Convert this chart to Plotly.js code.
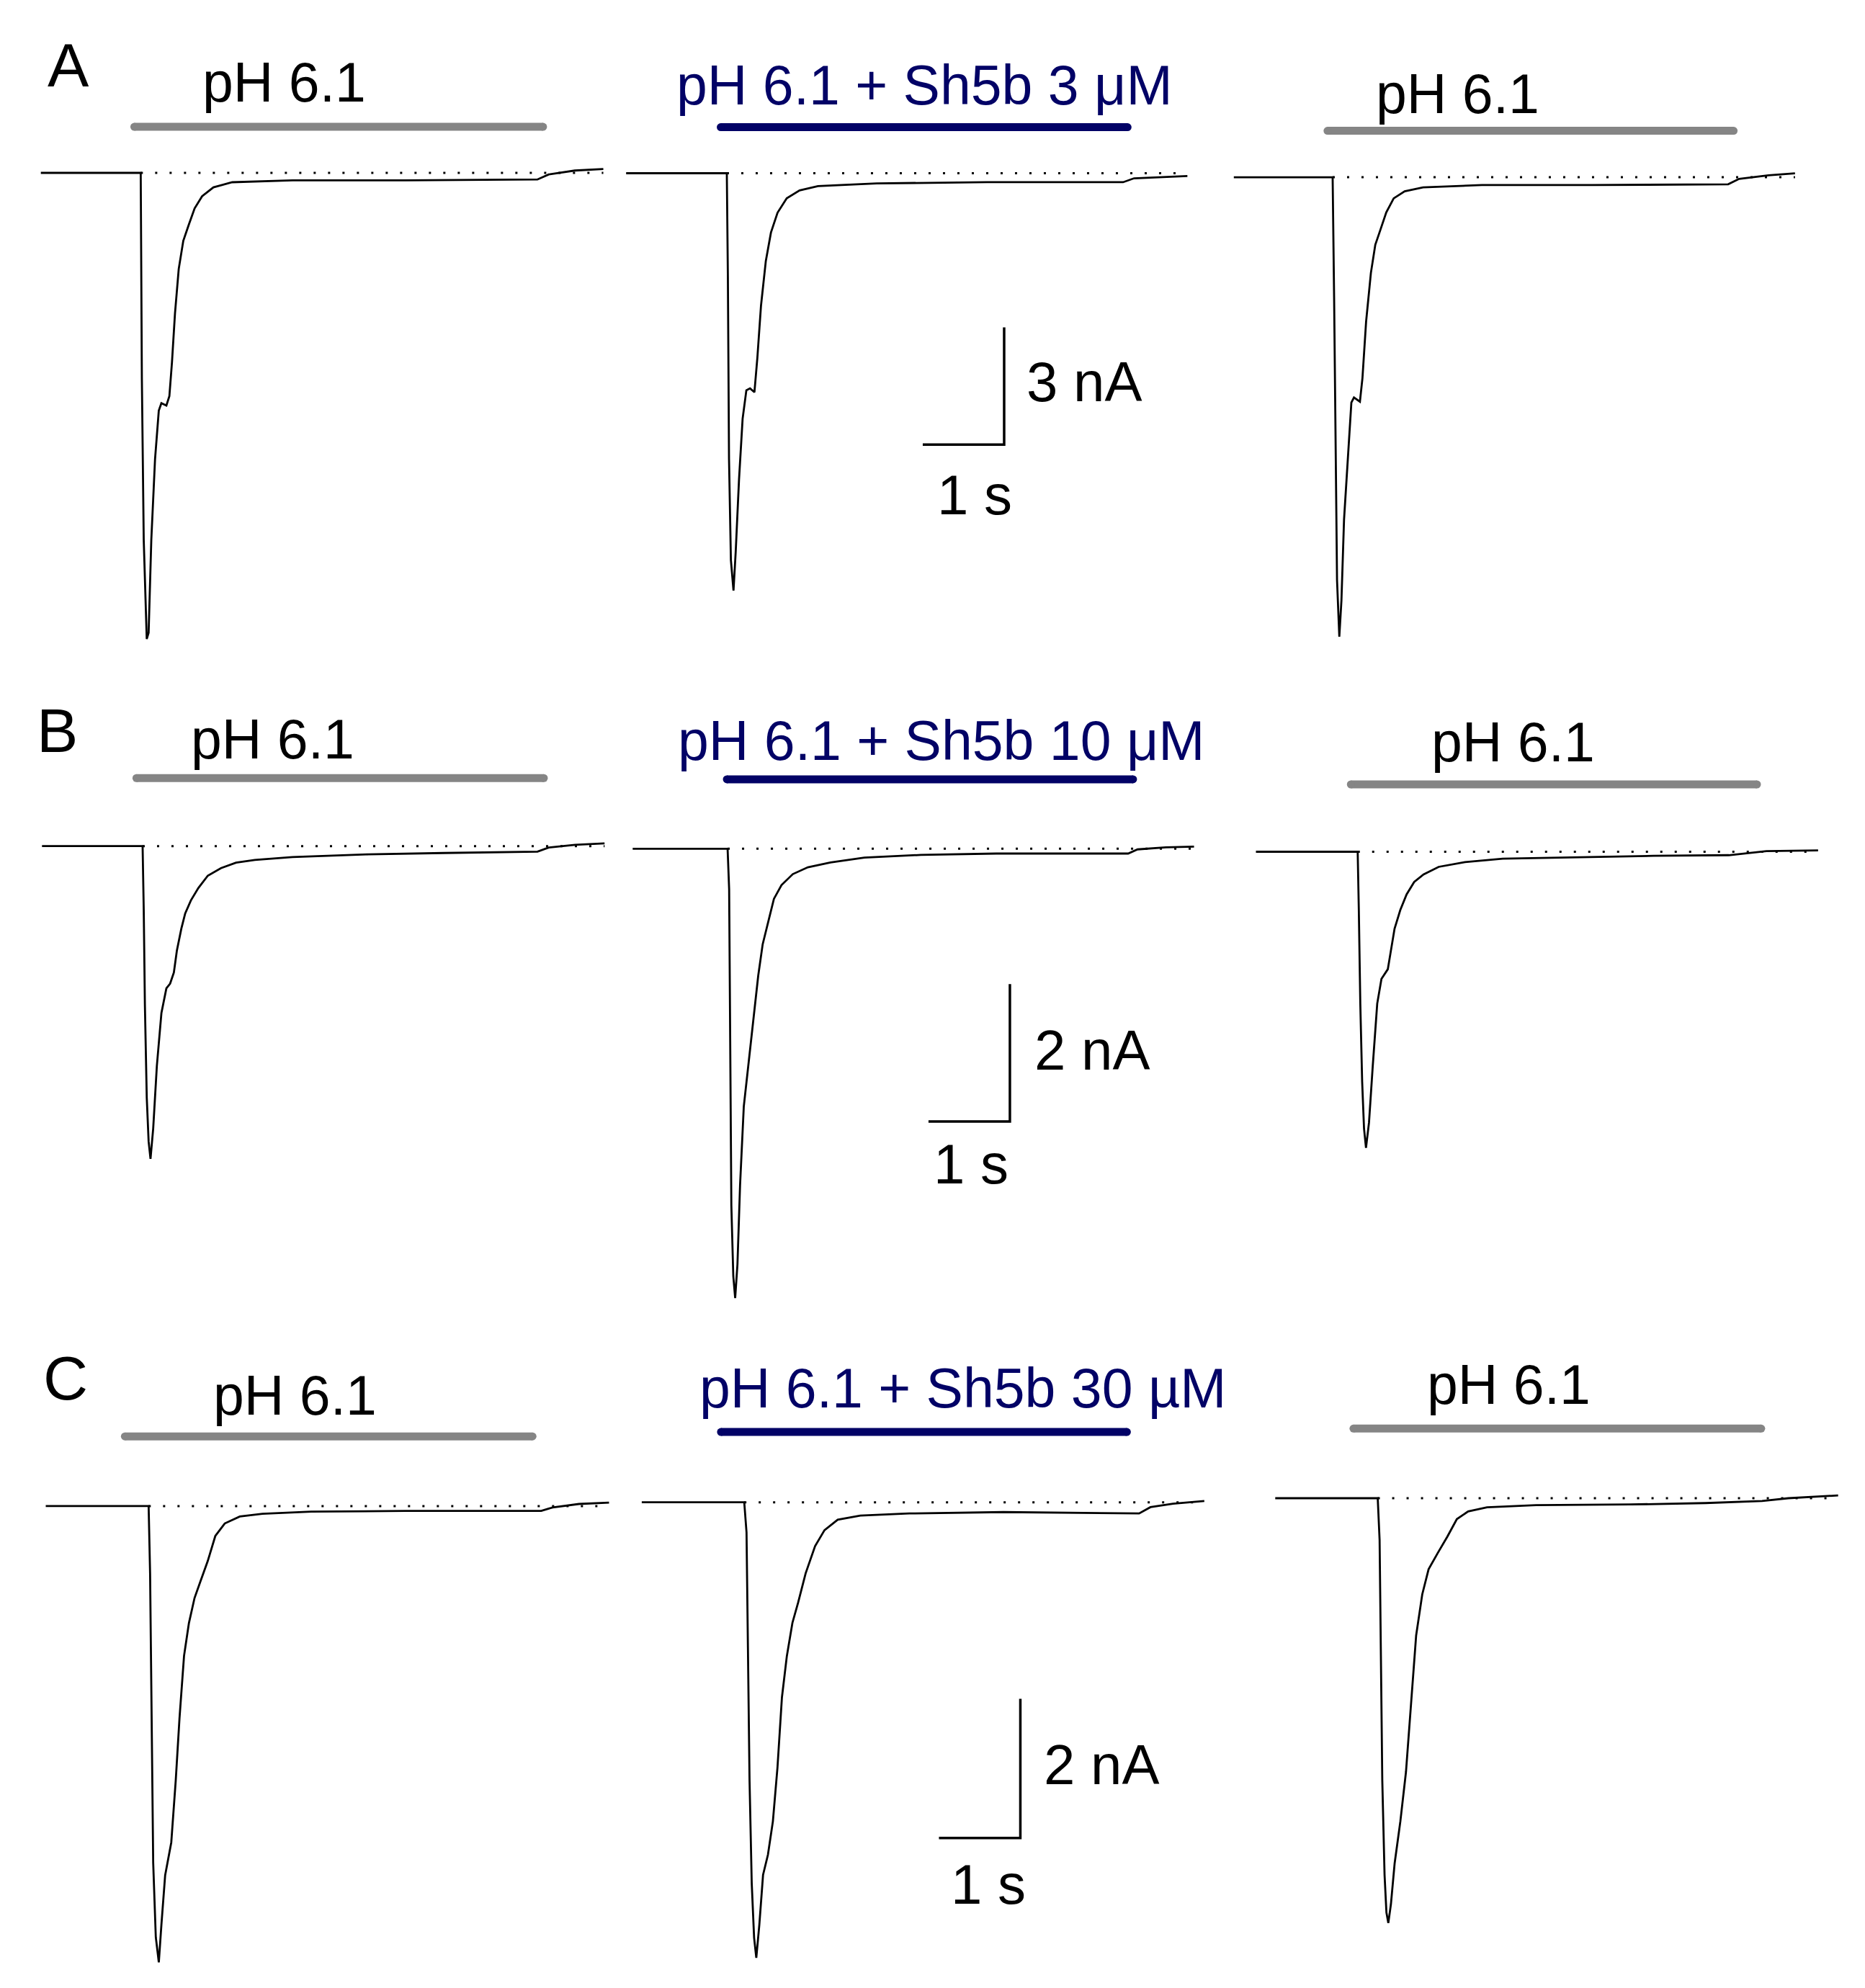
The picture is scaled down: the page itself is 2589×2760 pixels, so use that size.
<!DOCTYPE html>
<html>
<head>
<meta charset="utf-8">
<script src="https://cdn.plot.ly/plotly-3.0.1.min.js"></script>
<style>html,body{margin:0;padding:0;background:#fff;}#chart{width:2589px;height:2760px;}</style>
</head>
<body>
<div id="chart"></div>
<script>
// ---------- DATA (time in s, current in nA) ----------
const tA1 = [0, 1.227, 1.241, 1.264, 1.301, 1.324, 1.357, 1.403, 1.449, 1.481, 1.542, 1.579, 1.611, 1.648, 1.694, 1.750, 1.819, 1.889, 1.981, 2.120, 2.351, 3.092, 4.48, 6.10, 6.24, 6.56, 6.91];
const iA1 = [0, 0, -5.26, -9.40, -11.94, -11.78, -9.40, -7.33, -6.09, -5.90, -5.96, -5.72, -4.85, -3.60, -2.46, -1.74, -1.32, -0.91, -0.60, -0.37, -0.24, -0.19, -0.19, -0.17, -0.04, 0.06, 0.10];

const tA2 = [0, 1.237, 1.250, 1.264, 1.287, 1.319, 1.346, 1.387, 1.431, 1.477, 1.522, 1.576, 1.612, 1.657, 1.716, 1.779, 1.860, 1.973, 2.131, 2.357, 3.079, 4.434, 6.105, 6.24, 6.895];
const iA2 = [0, 0, -2.66, -7.32, -9.91, -10.69, -9.70, -7.84, -6.29, -5.56, -5.51, -5.61, -4.73, -3.39, -2.25, -1.52, -1.01, -0.64, -0.44, -0.33, -0.26, -0.23, -0.23, -0.13, -0.07];

const tA3 = [0, 1.214, 1.232, 1.250, 1.268, 1.296, 1.322, 1.354, 1.399, 1.444, 1.476, 1.549, 1.580, 1.625, 1.684, 1.738, 1.805, 1.873, 1.964, 2.099, 2.325, 3.047, 4.402, 6.073, 6.208, 6.569, 6.894];
const iA3 = [0, 0, -3.08, -7.22, -10.32, -11.77, -10.84, -8.77, -7.22, -5.77, -5.64, -5.75, -5.15, -3.70, -2.45, -1.73, -1.32, -0.90, -0.54, -0.36, -0.26, -0.20, -0.20, -0.18, -0.04, 0.05, 0.10];

const tB1 = [0, 1.236, 1.250, 1.264, 1.287, 1.310, 1.333, 1.366, 1.411, 1.467, 1.528, 1.574, 1.620, 1.657, 1.712, 1.759, 1.829, 1.921, 2.037, 2.199, 2.384, 2.615, 3.078, 4.004, 4.929, 6.087, 6.226, 6.550, 6.911];
const iB1 = [0, 0, -0.93, -2.30, -3.66, -4.30, -4.55, -4.11, -3.20, -2.43, -2.07, -2.00, -1.84, -1.52, -1.20, -0.98, -0.79, -0.61, -0.43, -0.32, -0.24, -0.20, -0.16, -0.12, -0.10, -0.08, -0.02, 0.02, 0.04];

const tB2 = [0, 1.166, 1.185, 1.199, 1.212, 1.236, 1.259, 1.287, 1.319, 1.365, 1.435, 1.481, 1.542, 1.597, 1.666, 1.735, 1.828, 1.967, 2.152, 2.430, 2.847, 3.541, 4.466, 6.087, 6.202, 6.550, 6.896];
const iB2 = [0, 0, -0.59, -2.89, -5.19, -6.22, -6.54, -6.05, -4.90, -3.75, -3.00, -2.48, -1.85, -1.39, -1.05, -0.73, -0.53, -0.37, -0.27, -0.20, -0.13, -0.09, -0.07, -0.07, -0.01, 0.02, 0.03];

const tB3 = [0, 1.250, 1.264, 1.282, 1.305, 1.328, 1.352, 1.389, 1.435, 1.490, 1.542, 1.620, 1.658, 1.703, 1.773, 1.851, 1.944, 2.060, 2.245, 2.569, 3.032, 3.958, 4.883, 5.809, 6.272, 6.906];
const iB3 = [0, 0, -0.85, -2.21, -3.35, -4.03, -4.31, -3.94, -3.12, -2.21, -1.85, -1.71, -1.44, -1.12, -0.85, -0.62, -0.44, -0.33, -0.22, -0.15, -0.10, -0.08, -0.06, -0.05, 0.01, 0.02];

const tC1 = [0, 1.264, 1.282, 1.296, 1.320, 1.352, 1.389, 1.421, 1.467, 1.542, 1.597, 1.643, 1.699, 1.759, 1.828, 1.898, 1.990, 2.083, 2.199, 2.384, 2.662, 3.263, 4.420, 6.087, 6.226, 6.550, 6.920];
const iC1 = [0, 0, -0.97, -2.75, -5.12, -6.19, -6.55, -6.01, -5.30, -4.83, -3.94, -3.05, -2.15, -1.68, -1.32, -1.09, -0.79, -0.43, -0.25, -0.15, -0.11, -0.08, -0.07, -0.07, -0.02, 0.03, 0.05];

const tC2 = [0, 1.259, 1.287, 1.305, 1.324, 1.351, 1.380, 1.407, 1.444, 1.490, 1.550, 1.611, 1.667, 1.722, 1.782, 1.851, 1.921, 2.013, 2.129, 2.245, 2.407, 2.685, 3.287, 4.443, 6.110, 6.249, 6.527, 6.911];
const iC2 = [0, 0, -0.43, -2.21, -3.99, -5.47, -6.25, -6.54, -6.07, -5.35, -5.06, -4.58, -3.81, -2.80, -2.21, -1.73, -1.44, -1.02, -0.63, -0.40, -0.25, -0.19, -0.16, -0.14, -0.16, -0.07, -0.02, 0.02];

const tC3 = [0, 1.259, 1.282, 1.296, 1.315, 1.343, 1.366, 1.389, 1.421, 1.467, 1.537, 1.606, 1.666, 1.731, 1.806, 1.884, 2.000, 2.115, 2.231, 2.370, 2.602, 3.204, 4.360, 5.286, 5.981, 6.305, 6.915];
const iC3 = [0, 0, -0.60, -2.27, -4.05, -5.41, -5.95, -6.10, -5.83, -5.24, -4.64, -3.93, -2.98, -1.97, -1.38, -1.02, -0.78, -0.55, -0.30, -0.19, -0.13, -0.10, -0.09, -0.07, -0.04, 0, 0.04];

// solution application periods [start, end] in s
const appA1 = [1.148, 6.17], appA2 = [1.162, 6.16], appA3 = [1.151, 6.14];
const appB1 = [1.160, 6.165], appB2 = [1.157, 6.147], appB3 = [1.166, 6.155];
const appC1 = [0.972, 5.98], appC2 = [0.973, 5.96], appC3 = [0.961, 5.97];

// labels
const rowLetters = ["A", "B", "C"];
const labelCtrl = "pH 6.1";
const labelsToxin = ["pH 6.1 + Sh5b 3 \u03bcM", "pH 6.1 + Sh5b 10 \u03bcM", "pH 6.1 + Sh5b 30 \u00b5M"];

// scale bars: [time s, current nA] and labels
const scaleTime = [1, 1, 1];
const scaleCurrent = [3, 2, 2];
const scaleTimeLabels = ["1 s", "1 s", "1 s"];
const scaleCurrentLabels = ["3 nA", "2 nA", "2 nA"];

// ---------- LAYOUT GEOMETRY ----------
const W = 2589, H = 2760;
const SEC_PX = 113;
const NA_PX = [54.2, 95.4, 96.7];
const rowBox = [[20, 940], [950, 1830], [1840, 2750]];
const colBox = [[0, 860], [860, 1700], [1700, 2589]];
const GRAY = "#858585", NAVY = "#020266";
const FONT = "Liberation Sans, Arial, sans-serif";

const panels = [
  {t: tA1, i: iA1, app: appA1, x0: 56.7, base: 240.0, barLvl: 1.18, r: 0, c: 0, label: labelCtrl, lx: 394, ly: 114},
  {t: tA2, i: iA2, app: appA2, x0: 869.2, base: 240.5, barLvl: 1.18, r: 0, c: 1, label: labelsToxin[0], lx: 1283, ly: 118},
  {t: tA3, i: iA3, app: appA3, x0: 1712.8, base: 246.1, barLvl: 1.19, r: 0, c: 2, label: labelCtrl, lx: 2023, ly: 130},
  {t: tB1, i: iB1, app: appB1, x0: 58.3, base: 1174.7, barLvl: 0.99, r: 1, c: 0, label: labelCtrl, lx: 378, ly: 1026},
  {t: tB2, i: iB2, app: appB2, x0: 878.3, base: 1178.3, barLvl: 1.01, r: 1, c: 1, label: labelsToxin[1], lx: 1306, ly: 1028},
  {t: tB3, i: iB3, app: appB3, x0: 1743.5, base: 1182.5, barLvl: 0.98, r: 1, c: 2, label: labelCtrl, lx: 2100, ly: 1030},
  {t: tC1, i: iC1, app: appC1, x0: 63.5, base: 2090.9, barLvl: 1.00, r: 2, c: 0, label: labelCtrl, lx: 410, ly: 1937},
  {t: tC2, i: iC2, app: appC2, x0: 890.9, base: 2085.7, barLvl: 1.01, r: 2, c: 1, label: labelsToxin[2], lx: 1336, ly: 1927},
  {t: tC3, i: iC3, app: appC3, x0: 1770.3, base: 2080.0, barLvl: 1.00, r: 2, c: 2, label: labelCtrl, lx: 2094, ly: 1922}
];
// scale bar corner (in the middle panel's data coords) and label pixel positions
const scaleGeo = [
  {corner: [4.644, -6.95], tx: 1423, ty: 530, sx: 1353, sy: 687},
  {corner: [4.634, -3.97], tx: 1434, ty: 1458, sx: 1348, sy: 1616},
  {corner: [4.651, -4.82], tx: 1447, ty: 2450, sx: 1372, sy: 2616}
];
const letterPos = [[95, 90], [79, 1014], [91, 1913]];

const px2x = p => p / W;
const px2y = p => 1 - p / H;

const data = [];
const layout = {
  width: W, height: H,
  margin: {l: 0, r: 0, t: 0, b: 0},
  paper_bgcolor: "#fff", plot_bgcolor: "rgba(0,0,0,0)",
  showlegend: false,
  annotations: [],
  font: {family: FONT, color: "#000"}
};

panels.forEach((p, k) => {
  const n = k + 1;
  const xa = n === 1 ? "x" : "x" + n;
  const ya = n === 1 ? "y" : "y" + n;
  const cb = colBox[p.c], rb = rowBox[p.r];
  const npx = NA_PX[p.r];
  const axCommon = {visible: false, showgrid: false, zeroline: false, fixedrange: true};
  layout[n === 1 ? "xaxis" : "xaxis" + n] = Object.assign({}, axCommon, {
    domain: [px2x(cb[0]), px2x(cb[1])],
    range: [(cb[0] - p.x0) / SEC_PX, (cb[1] - p.x0) / SEC_PX],
    anchor: ya
  });
  layout[n === 1 ? "yaxis" : "yaxis" + n] = Object.assign({}, axCommon, {
    domain: [px2y(rb[1]), px2y(rb[0])],
    range: [(p.base - rb[1]) / npx, (p.base - rb[0]) / npx],
    anchor: xa
  });
  // dotted baseline
  data.push({
    x: [p.t[1], p.t[p.t.length - 1]], y: [0, 0], xaxis: xa, yaxis: ya,
    mode: "lines", line: {color: "#000", width: 3, dash: "3px,17px"},
    hoverinfo: "skip", cliponaxis: false
  });
  // current trace
  data.push({
    x: p.t, y: p.i, xaxis: xa, yaxis: ya,
    mode: "lines", line: {color: "#000", width: 2.8},
    hoverinfo: "skip", cliponaxis: false
  });
  // application bar
  const col = p.c === 1 ? NAVY : GRAY;
  data.push({
    x: p.app, y: [p.barLvl, p.barLvl], xaxis: xa, yaxis: ya,
    mode: "lines+markers", line: {color: col, width: 11},
    marker: {color: col, size: 11, line: {width: 0}},
    hoverinfo: "skip", cliponaxis: false
  });
  // label
  layout.annotations.push({
    xref: "paper", yref: "paper", x: px2x(p.lx), y: px2y(p.ly),
    xanchor: "center", yanchor: "middle", showarrow: false,
    text: p.label, font: {family: FONT, size: 77, color: p.c === 1 ? NAVY : "#000"}
  });
  // scale bar in middle panel
  if (p.c === 1) {
    const g = scaleGeo[p.r];
    const cx = g.corner[0], cy = g.corner[1];
    data.push({
      x: [cx - scaleTime[p.r], cx, cx], y: [cy, cy, cy + scaleCurrent[p.r]],
      xaxis: xa, yaxis: ya, mode: "lines",
      line: {color: "#000", width: 3.5}, hoverinfo: "skip", cliponaxis: false
    });
    layout.annotations.push({
      xref: "paper", yref: "paper", x: px2x(g.tx), y: px2y(g.ty),
      xanchor: "left", yanchor: "middle", showarrow: false,
      text: scaleCurrentLabels[p.r], font: {family: FONT, size: 78, color: "#000"}
    });
    layout.annotations.push({
      xref: "paper", yref: "paper", x: px2x(g.sx), y: px2y(g.sy),
      xanchor: "center", yanchor: "middle", showarrow: false,
      text: scaleTimeLabels[p.r], font: {family: FONT, size: 78, color: "#000"}
    });
  }
});

rowLetters.forEach((L, r) => {
  layout.annotations.push({
    xref: "paper", yref: "paper", x: px2x(letterPos[r][0]), y: px2y(letterPos[r][1]),
    xanchor: "center", yanchor: "middle", showarrow: false,
    text: L, font: {family: FONT, size: 86, color: "#000"}
  });
});

Plotly.newPlot("chart", data, layout, {staticPlot: true, displayModeBar: false});
</script>
</body>
</html>
